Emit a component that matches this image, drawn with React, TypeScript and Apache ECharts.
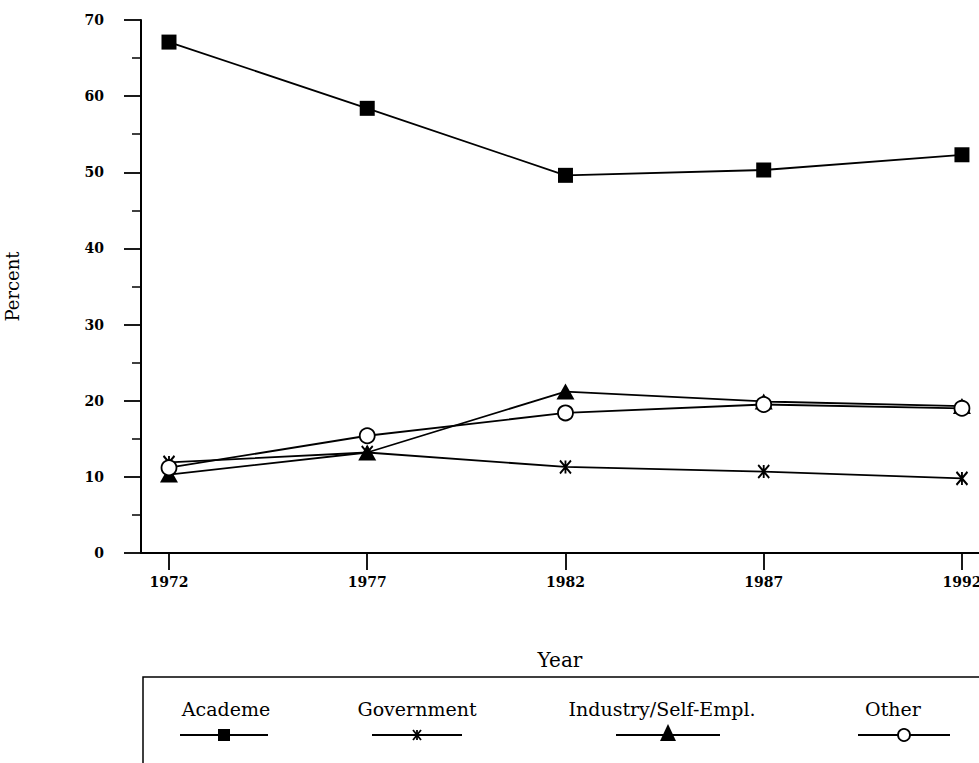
import React, { useEffect, useRef } from "react";
import * as echarts from "echarts";

const years = [1972, 1977, 1982, 1987, 1992];
const academe = [67.1, 58.4, 49.6, 50.3, 52.3];
const government = [11.9, 13.2, 11.3, 10.7, 9.8];
const industry = [10.3, 13.2, 21.2, 19.9, 19.3];
const other = [11.2, 15.4, 18.4, 19.5, 19.0];
const yTicks = [0, 10, 20, 30, 40, 50, 60, 70];
const seriesNames = ["Academe", "Government", "Industry/Self-Empl.", "Other"];

const FONT = "'DejaVu Serif', 'Liberation Serif', serif";
const STAR = "path://M0,0L10,12M10,0L0,12M5,0L5,12";

const pts = (vals: number[]) => years.map((y, i) => [y, vals[i]]);

export default function App() {
  const ref = useRef<HTMLDivElement>(null);
  useEffect(() => {
    if (!ref.current) return;
    const chart = echarts.init(ref.current, null, { renderer: "svg" });
    const lineStyle = { color: "#000", width: 1.8 };
    const legendItems = [
      { cx: 226, lx1: 180, lx2: 268, mark: "square" },
      { cx: 417, lx1: 372, lx2: 462, mark: "star" },
      { cx: 662, lx1: 616, lx2: 720, mark: "triangle" },
      { cx: 893, lx1: 858, lx2: 950, mark: "circle" },
    ];
    const markerMX = [224, 417, 668, 904];
    const legendGraphics: any[] = [
      {
        type: "rect",
        shape: { x: 143, y: 677, width: 860, height: 120 },
        style: { fill: "#fff", stroke: "#000", lineWidth: 1.5 },
      },
    ];
    legendItems.forEach((it, i) => {
      legendGraphics.push({
        type: "text",
        x: it.cx,
        y: 709,
        style: {
          text: seriesNames[i],
          font: `19px ${FONT}`,
          fill: "#000",
          align: "center",
          verticalAlign: "middle",
        },
      });
      legendGraphics.push({
        type: "line",
        shape: { x1: it.lx1, y1: 735, x2: it.lx2, y2: 735 },
        style: { stroke: "#000", lineWidth: 1.8 },
      });
      const mx = markerMX[i];
      if (it.mark === "square") {
        legendGraphics.push({
          type: "rect",
          shape: { x: mx - 6, y: 729, width: 12, height: 12 },
          style: { fill: "#000" },
        });
      } else if (it.mark === "star") {
        legendGraphics.push({
          type: "group",
          children: [
            { type: "line", shape: { x1: mx - 4, y1: 730, x2: mx + 4, y2: 740 }, style: { stroke: "#000", lineWidth: 1.8 } },
            { type: "line", shape: { x1: mx + 4, y1: 730, x2: mx - 4, y2: 740 }, style: { stroke: "#000", lineWidth: 1.8 } },
            { type: "line", shape: { x1: mx, y1: 730, x2: mx, y2: 740 }, style: { stroke: "#000", lineWidth: 1.8 } },
          ],
        });
      } else if (it.mark === "triangle") {
        legendGraphics.push({
          type: "polygon",
          shape: { points: [[mx, 724], [mx - 8, 741], [mx + 8, 741]] },
          style: { fill: "#000" },
        });
      } else {
        legendGraphics.push({
          type: "circle",
          shape: { cx: mx, cy: 735, r: 6 },
          style: { fill: "#fff", stroke: "#000", lineWidth: 1.8 },
        });
      }
    });

    chart.setOption({
      animation: false,
      backgroundColor: "#fff",
      grid: { left: 141, right: 0, top: 20, bottom: 210, containLabel: false, outerBoundsMode: "none" },
      xAxis: {
        type: "value",
        min: 1971.294,
        max: 1992.43,
        name: "Year",
        nameLocation: "middle",
        nameGap: 97,
        nameTextStyle: { fontFamily: FONT, fontSize: 20, color: "#000" },
        axisLine: { show: true, lineStyle: { color: "#000", width: 2 } },
        axisTick: { show: true, length: 17, lineStyle: { color: "#000", width: 1.8 }, customValues: years },
        axisLabel: {
          customValues: years,
          formatter: (v: number) => String(v),
          fontFamily: FONT,
          fontSize: 14,
          fontWeight: "bold",
          color: "#000",
          margin: 22,
        },
        splitLine: { show: false },
      },
      yAxis: {
        type: "value",
        min: 0,
        max: 70,
        interval: 10,
        name: "Percent",
        nameLocation: "middle",
        nameGap: 120,
        nameRotate: 90,
        nameTextStyle: { fontFamily: FONT, fontSize: 18, color: "#000" },
        axisLine: { show: true, lineStyle: { color: "#000", width: 2 } },
        axisTick: { show: true, length: 17, lineStyle: { color: "#000", width: 1.8 } },
        minorTick: { show: true, splitNumber: 2, length: 9, lineStyle: { color: "#000", width: 1.5 } },
        axisLabel: {
          fontFamily: FONT,
          fontSize: 14,
          fontWeight: "bold",
          color: "#000",
          margin: 37,
          formatter: (v: number) => (yTicks.includes(v) ? String(v) : ""),
        },
        splitLine: { show: false },
      },
      series: [
        {
          name: seriesNames[0],
          type: "line",
          data: pts(academe),
          symbol: "rect",
          symbolSize: 15,
          lineStyle,
          itemStyle: { color: "#000" },
          z: 3,
        },
        {
          name: seriesNames[1],
          type: "line",
          data: pts(government),
          symbol: STAR,
          symbolSize: [11, 13],
          lineStyle,
          itemStyle: { color: "#000", borderColor: "#000", borderWidth: 2 },
          z: 3,
        },
        {
          name: seriesNames[2],
          type: "line",
          data: pts(industry),
          symbol: "triangle",
          symbolSize: [18, 16],
          lineStyle,
          itemStyle: { color: "#000" },
          z: 4,
        },
        {
          name: seriesNames[3],
          type: "line",
          data: pts(other),
          symbol: "circle",
          symbolSize: 15,
          lineStyle,
          itemStyle: { color: "#fff", borderColor: "#000", borderWidth: 1.8 },
          z: 5,
        },
      ],
      graphic: legendGraphics,
    });
    return () => chart.dispose();
  }, []);
  return <div ref={ref} style={{ width: 979, height: 763, position: "absolute", left: 0, top: 0 }} />;
}
